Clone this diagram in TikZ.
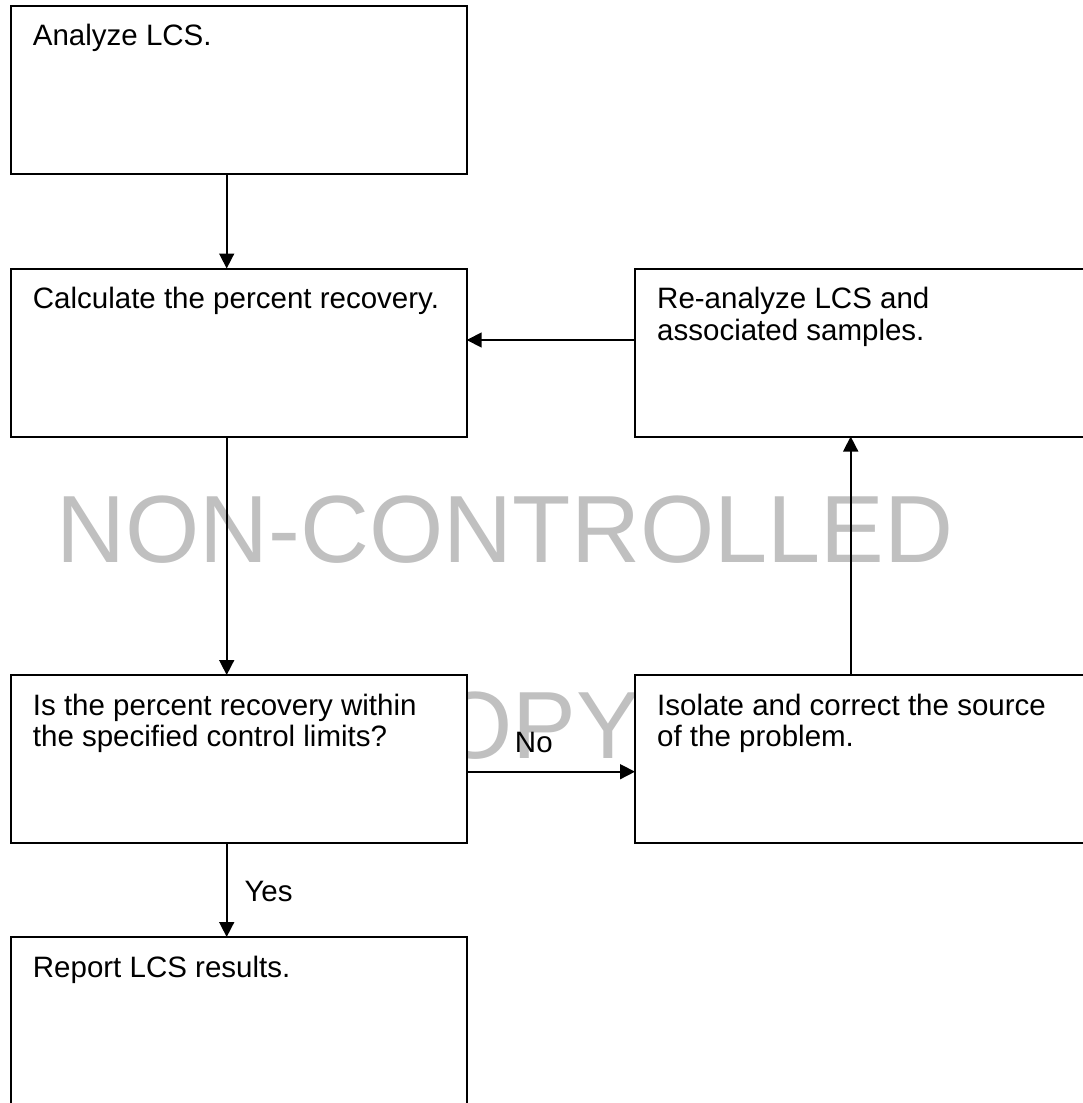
\documentclass[tikz,border=0pt]{standalone}
\usepackage{fontspec}
\setmainfont{Liberation Sans}
\usetikzlibrary{arrows.meta}
\definecolor{stampgray}{RGB}{192,192,192}

\begin{document}
\begin{tikzpicture}[x=1pt,y=-1pt,
  stepbox/.style={draw=black, fill=white, line width=2pt, outer sep=0pt,
    minimum width=456pt, minimum height=168pt, inner sep=0pt, anchor=north west},
  steptext/.style={anchor=north west, inner sep=0pt, align=left,
    font=\fontsize{29.5}{31.5}\selectfont, xshift=22pt, yshift=-18.6pt},
  flow/.style={line width=1.6pt, -{Triangle[length=15pt,width=15pt]}},
  flowlabel/.style={inner sep=0pt, anchor=base west, font=\fontsize{29.5}{32}\selectfont},
  stamp/.style={text=stampgray, inner sep=0pt, anchor=base,
    font=\fontsize{95.5}{110}\selectfont}]

% page frame
\useasboundingbox (0,0) rectangle (1083,1103);
\clip (0,0) rectangle (1083,1103);
\fill[white] (0,0) rectangle (1083,1103);

% watermark, behind the boxes
\node[stamp] (wm1) at (505,562) {NON-CONTROLLED};
\node[stamp] (wm2) at (505,758) {COPY};

% process boxes
\node[stepbox] (a) at (10.7,5.7) {};
\node[stepbox] (b) at (10.7,268.5) {};
\node[stepbox] (c) at (635,268.5) {};
\node[stepbox] (d) at (10.7,675) {};
\node[stepbox] (e) at (635,675) {};
\node[stepbox] (f) at (10.7,937) {};

% box texts
\node[steptext] (at) at (a.north west) {Analyze LCS.};
\node[steptext] (bt) at (b.north west) {Calculate the percent recovery.};
\node[steptext] (ct) at (c.north west) {Re-analyze LCS and\\associated samples.};
\node[steptext] (dt) at (d.north west) {Is the percent recovery within\\the specified control limits?};
\node[steptext] (et) at (e.north west) {Isolate and correct the source\\of the problem.};
\node[steptext] (ft) at (f.north west) {Report LCS results.};

% connectors
\draw[flow] ([xshift=-12pt]a.south) -- ([xshift=-12pt]b.north);
\draw[flow] ([xshift=-12pt]b.south) -- ([xshift=-12pt]d.north);
\draw[flow] ([xshift=-12pt]d.south) -- ([xshift=-12pt]f.north)
  node[flowlabel, pos=0.62, xshift=17pt] (yes) {Yes};
\draw[flow] ([yshift=-12.7pt]d.east) -- ([yshift=-12.7pt]e.west)
  node[flowlabel, pos=0.282, yshift=19pt] (no) {No};
\draw[flow] ([xshift=-12.3pt]e.north) -- ([xshift=-12.3pt]c.south);
\draw[flow] ([yshift=12.5pt]c.west) -- ([yshift=12.5pt]b.east);
\end{tikzpicture}
\end{document}
